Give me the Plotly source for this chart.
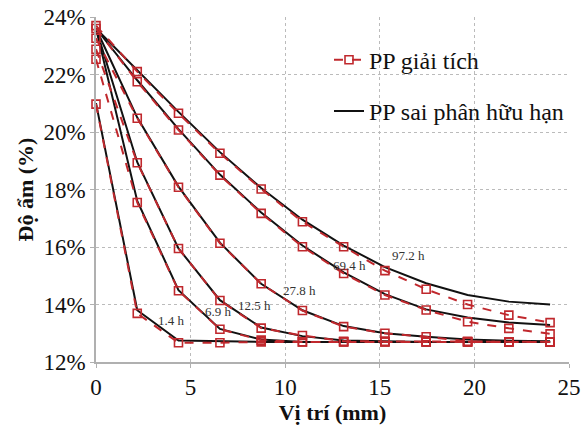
import plotly.graph_objects as go

# Positions (mm)
x_pos = [0.0, 2.18, 4.36, 6.55, 8.73, 10.91, 13.09, 15.27, 17.45, 19.64, 21.82, 24.0]

times = ["1.4 h", "6.9 h", "12.5 h", "27.8 h", "69.4 h", "97.2 h"]

# Analytical solution (PP giải tích), moisture %
ana_1_4 = [20.97, 13.69, 12.67, 12.67, 12.70, 12.70, 12.70, 12.70, 12.70, 12.70, 12.70, 12.70]
ana_6_9 = [22.53, 17.55, 14.48, 13.14, 12.76, 12.70, 12.70, 12.70, 12.70, 12.70, 12.70, 12.70]
ana_12_5 = [22.88, 18.93, 15.95, 14.14, 13.18, 12.92, 12.72, 12.72, 12.70, 12.70, 12.70, 12.70]
ana_27_8 = [23.26, 20.48, 18.08, 16.13, 14.72, 13.79, 13.23, 13.00, 12.88, 12.72, 12.70, 12.70]
ana_69_4 = [23.60, 21.75, 20.07, 18.50, 17.17, 16.01, 15.08, 14.33, 13.81, 13.40, 13.17, 12.98]
ana_97_2 = [23.70, 22.10, 20.65, 19.26, 18.02, 16.88, 16.01, 15.18, 14.53, 14.00, 13.63, 13.37]

# Finite difference solution (PP sai phân hữu hạn), moisture %
fd_1_4 = [21.00, 13.80, 12.75, 12.72, 12.70, 12.70, 12.70, 12.70, 12.70, 12.70, 12.70, 12.70]
fd_6_9 = [23.60, 17.60, 14.50, 13.15, 12.78, 12.70, 12.70, 12.70, 12.70, 12.70, 12.70, 12.70]
fd_12_5 = [23.60, 18.95, 15.95, 14.15, 13.20, 12.90, 12.75, 12.72, 12.70, 12.70, 12.70, 12.70]
fd_27_8 = [23.60, 20.50, 18.10, 16.15, 14.72, 13.80, 13.25, 13.00, 12.88, 12.78, 12.74, 12.72]
fd_69_4 = [23.60, 21.80, 20.10, 18.52, 17.20, 16.05, 15.12, 14.36, 13.83, 13.55, 13.37, 13.29]
fd_97_2 = [23.60, 22.15, 20.70, 19.30, 18.05, 16.95, 16.05, 15.30, 14.74, 14.33, 14.10, 14.00]

ana_all = [ana_1_4, ana_6_9, ana_12_5, ana_27_8, ana_69_4, ana_97_2]
fd_all = [fd_1_4, fd_6_9, fd_12_5, fd_27_8, fd_69_4, fd_97_2]

# Time label anchor positions (data units)
label_x = [4.0, 6.45, 8.38, 10.75, 13.38, 16.54]
label_y = [13.46, 13.75, 13.95, 14.47, 15.37, 15.72]

x_ticks = [0, 5, 10, 15, 20, 25]
y_ticks = [12, 14, 16, 18, 20, 22, 24]
y_tick_text = ["12%", "14%", "16%", "18%", "20%", "22%", "24%"]

RED = "#c0282d"
FONT = "Liberation Serif"

fig = go.Figure()

for i, ys in enumerate(fd_all):
    fig.add_trace(go.Scatter(
        x=x_pos, y=ys, mode="lines",
        line=dict(color="#111111", width=2),
        name="PP sai phân hữu hạn", legendgroup="fd", showlegend=(i == 0),
        legendrank=2,
    ))

for i, ys in enumerate(ana_all):
    fig.add_trace(go.Scatter(
        x=x_pos, y=ys, mode="lines+markers", cliponaxis=False,
        line=dict(color=RED, width=2, dash="dash"),
        marker=dict(symbol="square-open", size=8, color=RED, line=dict(width=1.6, color=RED)),
        name="PP giải tích", legendgroup="ana", showlegend=(i == 0),
        legendrank=1,
    ))

for t, lx, ly in zip(times, label_x, label_y):
    fig.add_annotation(x=lx, y=ly, text=t, showarrow=False,
                       font=dict(family=FONT, size=13, color="#333333"))

fig.update_layout(
    width=585, height=427,
    margin=dict(l=96, r=16, t=17, b=65),
    paper_bgcolor="white", plot_bgcolor="white",
    font=dict(family=FONT, size=22, color="#111111"),
    showlegend=True,
    legend=dict(x=1.0, y=0.94, xanchor="right", yanchor="top",
                bgcolor="rgba(0,0,0,0)", borderwidth=0,
                font=dict(family=FONT, size=24, color="#111111"),
                tracegroupgap=17, itemwidth=30),
)

fig.update_xaxes(
    range=[0, 25], tickvals=x_ticks, automargin=False,
    showgrid=True, gridcolor="#bbbbbb", griddash="dot", gridwidth=1,
    showline=True, linecolor="#b0b0b0", linewidth=1.5,
    ticks="outside", ticklen=4, tickcolor="#b0b0b0",
    zeroline=False,
    title=dict(text="<b>Vị trí (mm)</b>", font=dict(family=FONT, size=22), standoff=2),
    tickfont=dict(family=FONT, size=23),
)
fig.update_yaxes(
    range=[12, 24], tickvals=y_ticks, ticktext=y_tick_text, automargin=False,
    showgrid=True, gridcolor="#bbbbbb", griddash="dot", gridwidth=1,
    showline=True, linecolor="#b0b0b0", linewidth=1.5,
    ticks="outside", ticklen=4, tickcolor="#b0b0b0",
    zeroline=False,
    title=dict(text="<b>Độ ẩm (%)</b>", font=dict(family=FONT, size=22), standoff=4),
    tickfont=dict(family=FONT, size=23),
)

fig.write_html("out.html")
